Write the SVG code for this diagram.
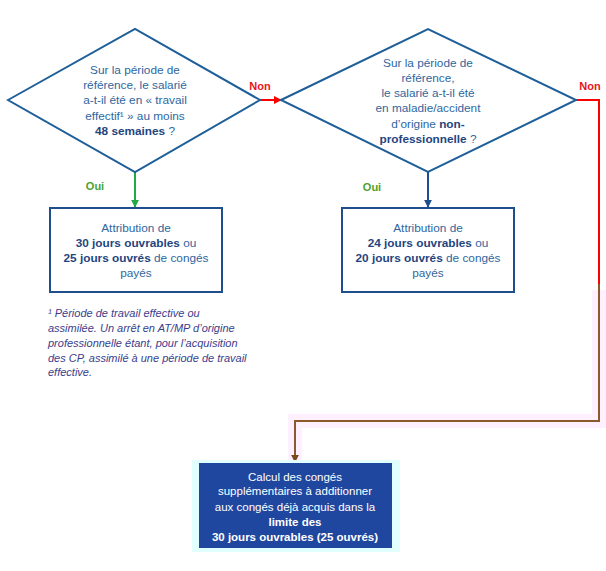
<svg xmlns="http://www.w3.org/2000/svg" width="606" height="571" viewBox="0 0 606 571">
<style>
.t{font-family:"Liberation Sans",Arial,sans-serif;font-size:11.8px;fill:#2E66A0;text-anchor:middle}
.b{font-weight:bold;fill:#1F4580}
.dia{fill:#fff;stroke:#1F5F99;stroke-width:2}
.box{fill:#fff;stroke:#1F4E8C;stroke-width:2}
.lbl{font-family:"Liberation Sans",Arial,sans-serif;font-size:11px;font-weight:bold}
.fn{font-family:"Liberation Sans",Arial,sans-serif;font-size:11px;font-style:italic;fill:#3A3D8C}
.w{font-family:"Liberation Sans",Arial,sans-serif;font-size:11.5px;fill:#fff;text-anchor:middle}
</style>
<defs>
<marker id="ar" viewBox="0 0 10 10" refX="9" refY="5" markerWidth="4" markerHeight="4" orient="auto"><path d="M0,0L10,5L0,10z" fill="#FF0000"/></marker>
<marker id="ag" viewBox="0 0 10 10" refX="9" refY="5" markerWidth="4" markerHeight="4" orient="auto"><path d="M0,0L10,5L0,10z" fill="#22AA44"/></marker>
<marker id="ab" viewBox="0 0 10 10" refX="9" refY="5" markerWidth="4" markerHeight="4" orient="auto"><path d="M0,0L10,5L0,10z" fill="#1F4E8C"/></marker>
<marker id="an" viewBox="0 0 10 10" refX="9" refY="5" markerWidth="4" markerHeight="4" orient="auto"><path d="M0,0L10,5L0,10z" fill="#7A4A1A"/></marker>
</defs>
<rect width="606" height="571" fill="#fff"/>
<path d="M599,290V421H295V460" fill="none" stroke="#FFF0FF" stroke-width="14"/>
<g id="connectors" fill="none" stroke-width="2">
<path d="M260,100H281" stroke="#FF0000" marker-end="url(#ar)"/>
<path d="M576,100H599V284" stroke="#FF0000"/>
<path d="M599,284V421H295V462" stroke="#8B5A2B" marker-end="url(#an)"/>
<path d="M135,172V207" stroke="#22AA44" marker-end="url(#ag)"/>
<path d="M428,172V207" stroke="#1F4E8C" marker-end="url(#ab)"/>
<text class="lbl" x="260" y="90" fill="#E8141B" stroke="none" text-anchor="middle">Non</text>
<text class="lbl" x="590" y="90" fill="#E8141B" stroke="none" text-anchor="middle">Non</text>
<text class="lbl" x="95" y="190" fill="#4CA22E" stroke="none" text-anchor="middle">Oui</text>
<text class="lbl" x="372" y="191" fill="#4CA22E" stroke="none" text-anchor="middle">Oui</text>
</g>
<g id="q1">
<path class="dia" d="M8,100L135,29L260,100L135,172Z"/>
<text class="t" x="135" y="74">Sur la période de</text>
<text class="t" x="135" y="89">référence, le salarié</text>
<text class="t" x="135" y="104">a-t-il été en « travail</text>
<text class="t" x="135" y="120">effectif¹ » au moins</text>
<text class="t" x="135" y="135"><tspan class="b">48 semaines</tspan> ?</text>
</g>
<g id="q2">
<path class="dia" d="M281,100L428,29L576,100L428,172Z"/>
<text class="t" x="428" y="67">Sur la période de</text>
<text class="t" x="428" y="82">référence,</text>
<text class="t" x="428" y="97">le salarié a-t-il été</text>
<text class="t" x="428" y="112">en maladie/accident</text>
<text class="t" x="428" y="128">d’origine <tspan class="b">non-</tspan></text>
<text class="t" x="428" y="143"><tspan class="b">professionnelle</tspan> ?</text>
</g>
<g id="r1">
<rect class="box" x="50" y="208" width="172" height="84"/>
<text class="t" x="136" y="232">Attribution de</text>
<text class="t" x="136" y="247"><tspan class="b">30 jours ouvrables</tspan> ou</text>
<text class="t" x="136" y="262"><tspan class="b">25 jours ouvrés</tspan> de congés</text>
<text class="t" x="136" y="277">payés</text>
</g>
<g id="r2">
<rect class="box" x="342" y="208" width="172" height="84"/>
<text class="t" x="428" y="232">Attribution de</text>
<text class="t" x="428" y="247"><tspan class="b">24 jours ouvrables</tspan> ou</text>
<text class="t" x="428" y="262"><tspan class="b">20 jours ouvrés</tspan> de congés</text>
<text class="t" x="428" y="277">payés</text>
</g>
<g id="footnote">
<text class="fn" x="48" y="317">¹  Période de travail effective ou</text>
<text class="fn" x="48" y="332">assimilée. Un arrêt en AT/MP d’origine</text>
<text class="fn" x="48" y="347">professionnelle étant, pour l’acquisition</text>
<text class="fn" x="48" y="362">des CP, assimilé à une période de travail</text>
<text class="fn" x="48" y="376">effective.</text>
</g>
<g id="r3">
<rect x="192" y="460" width="208" height="92" fill="#E2FFFF"/>
<rect x="199" y="463" width="193" height="85" fill="#1F47A0"/>
<text class="w" x="295" y="481">Calcul des congés</text>
<text class="w" x="295" y="495">supplémentaires à additionner</text>
<text class="w" x="295" y="511">aux congés déjà acquis dans la</text>
<text class="w" x="295" y="526" font-weight="bold">limite des</text>
<text class="w" x="295" y="541" font-weight="bold">30 jours ouvrables (25 ouvrés)</text>
</g>
</svg>
